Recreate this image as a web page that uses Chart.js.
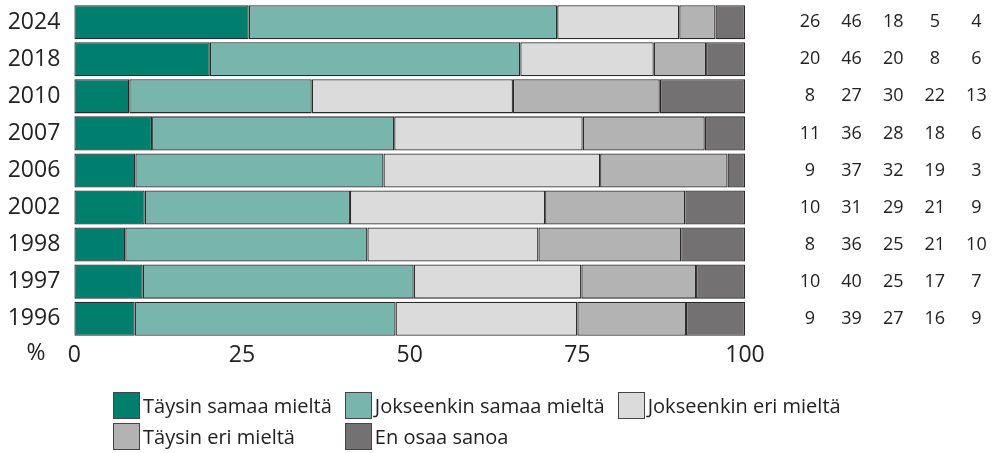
<!DOCTYPE html>
<html>
<head>
<meta charset="utf-8">
<script src="https://cdn.jsdelivr.net/npm/chart.js@4"></script>
<style>
  body { margin: 0; background: #fff; font-family: 'Open Sans', sans-serif; }
  #wrap { position: relative; width: 994px; height: 453px; }
  #legend {
    position: absolute; left: 113px; top: 392px;
    display: grid; grid-template-columns: auto auto auto;
    column-gap: 13px; row-gap: 4px;
    font-size: 20px; color: #222;
  }
  .item { display: flex; align-items: center; height: 27px; white-space: nowrap; }
  .box { width: 25px; height: 25px; border: 1px solid #444; margin-right: 3px; }
</style>
</head>
<body>
<div id="wrap">
  <canvas id="surveyChart" width="994" height="453"></canvas>
  <div id="legend"></div>
</div>
<script>
// Vuodet ja vastausvaihtoehdot
const years = ['2024', '2018', '2010', '2007', '2006', '2002', '1998', '1997', '1996'];
const seriesNames = ['Täysin samaa mieltä', 'Jokseenkin samaa mieltä', 'Jokseenkin eri mieltä', 'Täysin eri mieltä', 'En osaa sanoa'];
const colors = ['#007f6e', '#78b5ad', '#dbdbdb', '#b3b3b3', '#737171'];

// bar lengths (%)
const taysinSamaa = [26.0, 20.2, 8.2, 11.6, 9.1, 10.5, 7.6, 10.2, 9.0];
const jokseenkinSamaa = [46.0, 46.3, 27.2, 36.1, 37.0, 30.6, 36.1, 40.4, 38.9];
const jokseenkinEri = [18.2, 19.9, 30.0, 28.1, 32.3, 29.1, 25.5, 25.0, 27.1];
const taysinEri = [5.4, 7.8, 21.9, 18.2, 19.0, 20.9, 21.3, 17.1, 16.2];
const enOsaa = [4.4, 5.8, 12.7, 6.0, 2.6, 8.9, 9.5, 7.3, 8.8];

// printed numbers on the right, one row per year
const printed = [
    [26, 46, 18, 5, 4],
    [20, 46, 20, 8, 6],
    [8, 27, 30, 22, 13],
    [11, 36, 28, 18, 6],
    [9, 37, 32, 19, 3],
    [10, 31, 29, 21, 9],
    [8, 36, 25, 21, 10],
    [10, 40, 25, 17, 7],
    [9, 39, 27, 16, 9]
];
const xTicks = [0, 25, 50, 75, 100];

Chart.defaults.font.family = "'Open Sans', sans-serif";
Chart.defaults.color = '#222';

const allSeries = [taysinSamaa, jokseenkinSamaa, jokseenkinEri, taysinEri, enOsaa];

// numbers + "%" label
const sidePlugin = {
    id: 'side',
    afterDraw(chart) {
        const c = chart.ctx;
        const y = chart.scales.y;
        const area = chart.chartArea;
        c.save();
        c.fillStyle = '#222';
        c.textAlign = 'center';
        c.textBaseline = 'middle';
        c.font = "18px 'Open Sans'";
        printed.forEach((row, i) => {
            const py = y.getPixelForValue(i);
            row.forEach((v, j) => {
                c.fillText(String(v), area.right + 65 + j * 41.6, py);
            });
        });
        c.font = "23px 'Open Sans'";
        c.fillText('%', 36, area.bottom + 16);
        c.restore();
    }
};

const ctx = document.getElementById('surveyChart').getContext('2d');
new Chart(ctx, {
    type: 'bar',
    data: {
        labels: years,
        datasets: allSeries.map((d, i) => ({
            label: seriesNames[i],
            data: d,
            backgroundColor: colors[i],
            borderColor: '#2a2a2a',
            borderWidth: 1.3,
            borderSkipped: false,
            barPercentage: 0.92,
            categoryPercentage: 1
        }))
    },
    options: {
        indexAxis: 'y',
        responsive: false,
        animation: false,
        layout: { padding: { top: 3.7, right: 249, bottom: 75.8, left: 0 } },
        plugins: {
            legend: { display: false },
            tooltip: { enabled: false }
        },
        scales: {
            x: {
                stacked: true,
                min: 0,
                max: 100,
                afterBuildTicks: s => { s.ticks = xTicks.map(v => ({ value: v })); },
                grid: { display: false },
                border: { display: false },
                ticks: { font: { size: 23 }, padding: -4 },
                afterFit: s => { s.height = 40; }
            },
            y: {
                stacked: true,
                grid: { display: false },
                border: { display: false },
                ticks: { font: { size: 23 }, padding: 6 },
                afterFit: s => {
                    s.width = 74.3;
                    s.paddingTop = 0;
                    s.paddingBottom = 0;
                }
            }
        }
    },
    plugins: [sidePlugin]
});

// legend as html
const legend = document.getElementById('legend');
seriesNames.forEach((name, i) => {
    const el = document.createElement('div');
    el.className = 'item';
    el.innerHTML = '<span class="box" style="background:' + colors[i] + '"></span>' + name;
    legend.appendChild(el);
});
</script>
</body>
</html>
